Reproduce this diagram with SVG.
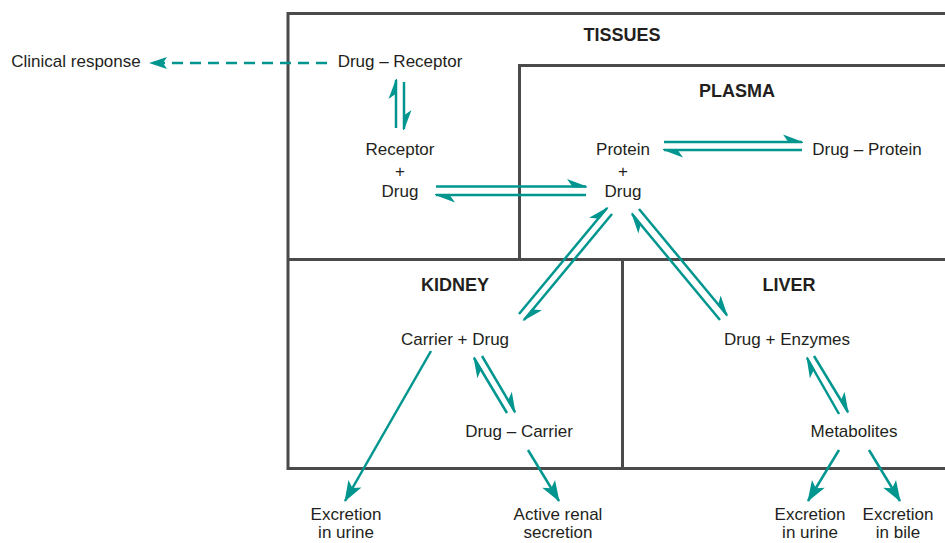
<svg xmlns="http://www.w3.org/2000/svg" width="945" height="543" viewBox="0 0 945 543">
<style>
.box{fill:none;stroke:#4a4a4a;stroke-width:3}
.t{font-family:"Liberation Sans",Arial,sans-serif;font-size:17px;fill:#231f20;text-anchor:middle}
.h{font-family:"Liberation Sans",Arial,sans-serif;font-size:18px;font-weight:bold;fill:#231f20;text-anchor:middle}
.c{fill:none;stroke:#00968f;stroke-width:2.5}
.hp{marker-end:url(#harp)}
.fa{marker-end:url(#full)}
</style>
<defs>
<marker id="harp" markerUnits="userSpaceOnUse" orient="auto" markerWidth="30" markerHeight="20" viewBox="-22 -10 24 20" refX="0" refY="0" overflow="visible">
<path d="M1,0 L-19,-7.5 L-14,-0.5 L-14,1 L1,1 Z" fill="#00968f"/>
</marker>
<marker id="full" markerUnits="userSpaceOnUse" orient="auto" markerWidth="30" markerHeight="20" viewBox="-22 -10 24 20" refX="0" refY="0" overflow="visible">
<path d="M1,0 L-20,-7.5 L-15,0 L-20,7.5 Z" fill="#00968f"/>
</marker>
<marker id="dash" markerUnits="userSpaceOnUse" orient="auto" markerWidth="30" markerHeight="20" viewBox="-22 -10 24 20" refX="0" refY="0" overflow="visible">
<path d="M1,0 L-17,-6 L-13,0 L-17,6 Z" fill="#00968f"/>
</marker>
</defs>

<g id="compartments">
<path class="box" d="M946,13.5 H288 V468.5 H946"/>
<path class="box" d="M946,65.5 H519.5 V259"/>
<path class="box" d="M288,259.5 H946"/>
<path class="box" d="M622.5,259.5 V468.5"/>
</g>

<g id="tissues"><text class="h" x="622" y="41">TISSUES</text></g>
<g id="plasma"><text class="h" x="737" y="97">PLASMA</text></g>
<g id="kidney"><text class="h" x="455" y="291">KIDNEY</text></g>
<g id="liver"><text class="h" x="789" y="291">LIVER</text></g>

<g id="clinical-response"><text class="t" x="76" y="67">Clinical response</text></g>
<g id="drug-receptor"><text class="t" x="400" y="67">Drug – Receptor</text></g>
<g id="receptor-drug">
<text class="t" x="400" y="155">Receptor</text>
<text class="t" x="400" y="177">+</text>
<text class="t" x="400" y="197">Drug</text>
</g>
<g id="protein-drug">
<text class="t" x="623" y="155">Protein</text>
<text class="t" x="623" y="177">+</text>
<text class="t" x="623" y="197">Drug</text>
</g>
<g id="drug-protein"><text class="t" x="867" y="155">Drug – Protein</text></g>
<g id="carrier-drug"><text class="t" x="455" y="345">Carrier + Drug</text></g>
<g id="drug-carrier"><text class="t" x="519" y="437">Drug – Carrier</text></g>
<g id="drug-enzymes"><text class="t" x="787" y="345">Drug + Enzymes</text></g>
<g id="metabolites"><text class="t" x="854" y="437">Metabolites</text></g>
<g id="excretion-urine-kidney">
<text class="t" x="346" y="520">Excretion</text>
<text class="t" x="346" y="538">in urine</text>
</g>
<g id="active-renal-secretion">
<text class="t" x="558" y="520">Active renal</text>
<text class="t" x="558" y="538">secretion</text>
</g>
<g id="excretion-urine-liver">
<text class="t" x="810" y="520">Excretion</text>
<text class="t" x="810" y="538">in urine</text>
</g>
<g id="excretion-bile">
<text class="t" x="898" y="520">Excretion</text>
<text class="t" x="898" y="538">in bile</text>
</g>

<g id="connectors">
<line class="c" x1="327" y1="63" x2="150" y2="63" stroke-dasharray="11 7" marker-end="url(#dash)"/>
<line class="c hp" x1="396" y1="128" x2="396" y2="80"/>
<line class="c hp" x1="404" y1="82" x2="404" y2="129"/>
<line class="c hp" x1="436" y1="186.5" x2="586" y2="186.5"/>
<line class="c hp" x1="586" y1="195" x2="436" y2="195"/>
<line class="c hp" x1="664" y1="142" x2="802" y2="142"/>
<line class="c hp" x1="802" y1="150" x2="664" y2="150"/>
<line class="c hp" x1="519" y1="314" x2="607" y2="208"/>
<line class="c hp" x1="612" y1="214" x2="524" y2="320"/>
<line class="c hp" x1="720" y1="320" x2="632" y2="214"/>
<line class="c hp" x1="639" y1="209" x2="727" y2="315"/>
<line class="c hp" x1="507" y1="413" x2="474" y2="358"/>
<line class="c hp" x1="482" y1="356" x2="515" y2="412"/>
<line class="c hp" x1="839" y1="414" x2="807" y2="358"/>
<line class="c hp" x1="814" y1="356" x2="848" y2="412"/>
<line class="c fa" x1="431" y1="351" x2="345" y2="501"/>
<line class="c fa" x1="528" y1="450" x2="559" y2="501"/>
<line class="c fa" x1="839" y1="450" x2="808" y2="501"/>
<line class="c fa" x1="869" y1="450" x2="900" y2="501"/>
</g>
</svg>
